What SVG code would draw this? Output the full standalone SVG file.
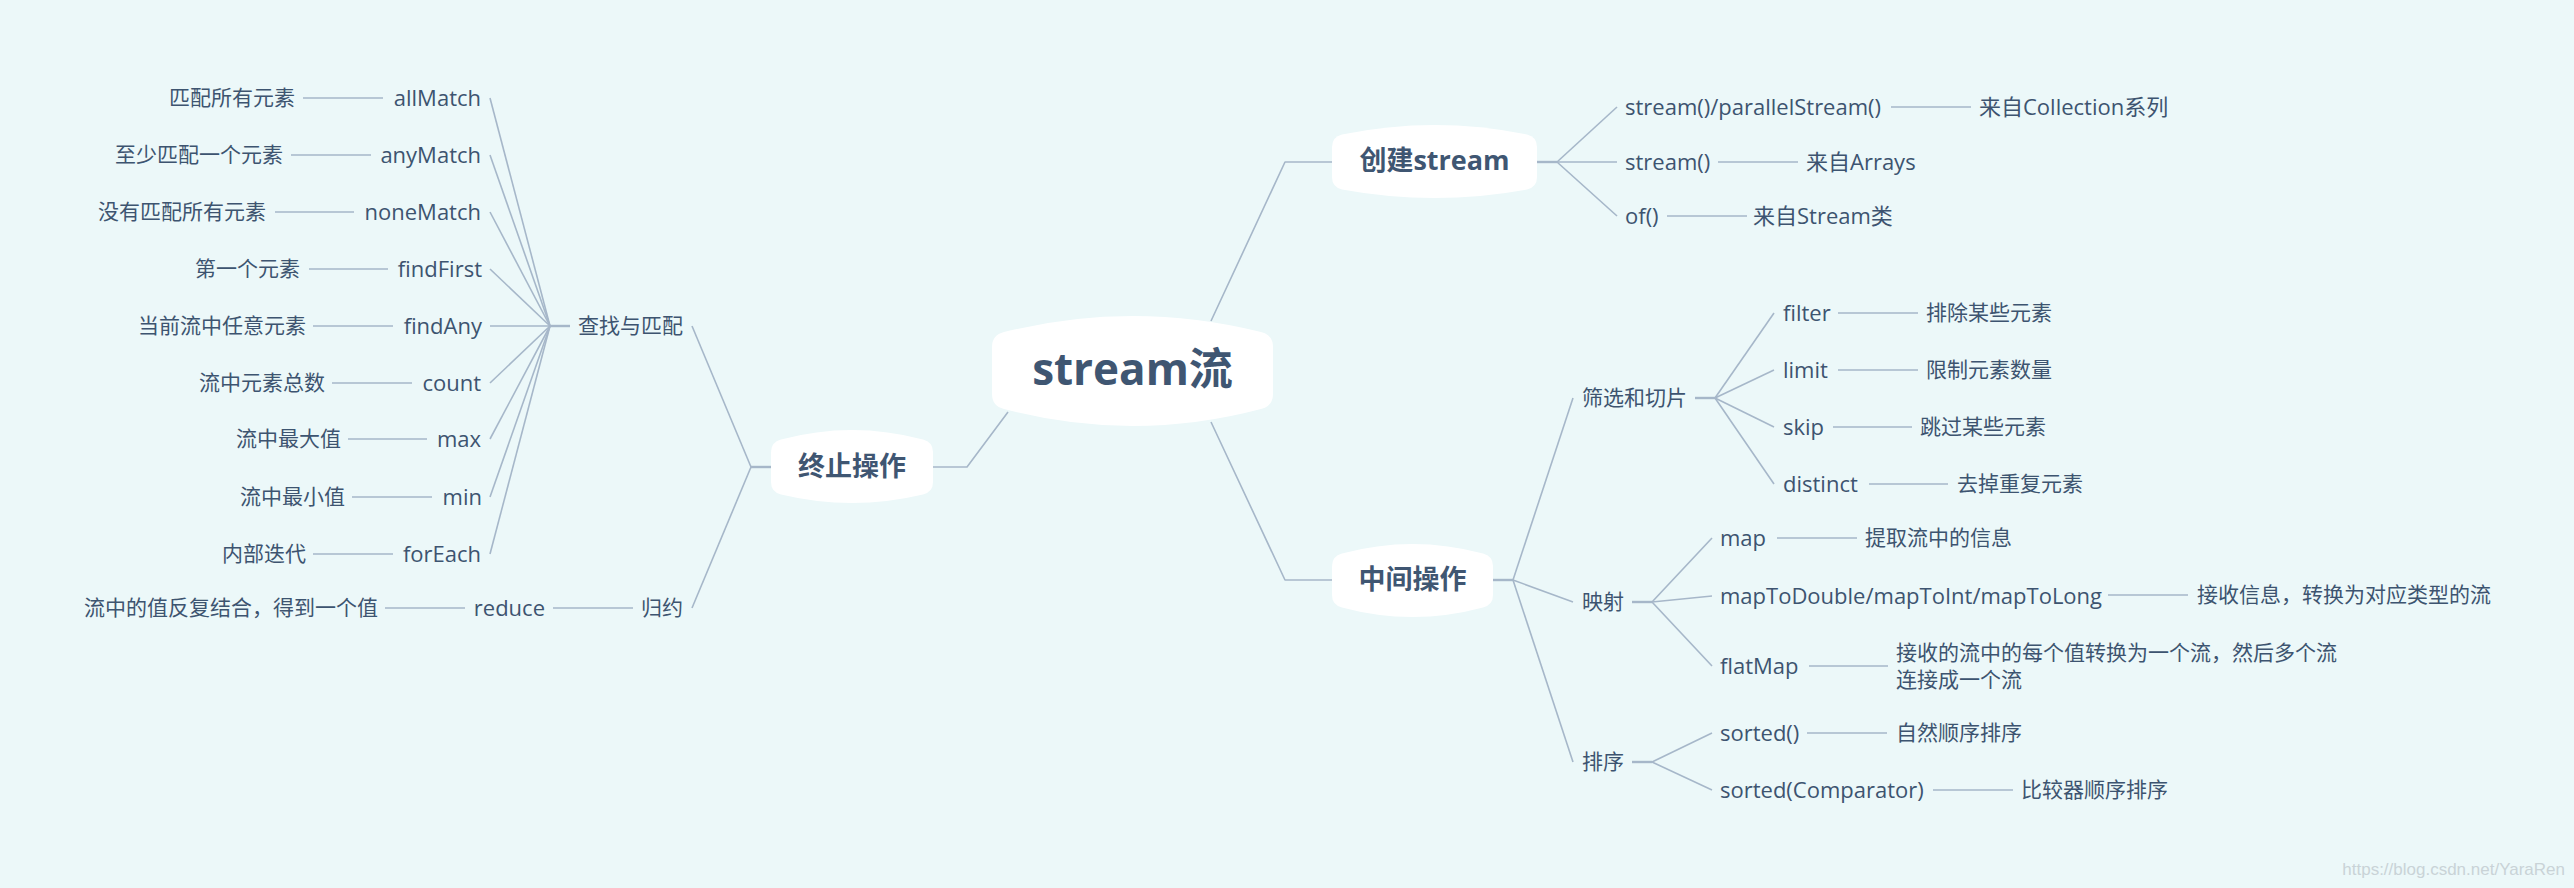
<svg xmlns="http://www.w3.org/2000/svg" width="2574" height="888" viewBox="0 0 2574 888">
<style>
.t{font-family:"Open Sans","Noto Sans CJK SC",sans-serif;font-size:21px;fill:#3d5470;dominant-baseline:central;transform:translateY(-1.5px)}
.l{font-size:22px}
.e{text-anchor:end}
.m{text-anchor:middle}
.b{font-weight:700;fill:#3f5672}
.c{stroke:#a6b7c9;stroke-width:1.6;fill:none;stroke-linejoin:round}
.s{stroke:#a6b7c9;stroke-width:2.4;fill:none}
.n{fill:#ffffff}
.w{font-family:"Liberation Sans",Arial,sans-serif;font-size:17px;fill:#c9d3d7;text-anchor:end;dominant-baseline:central}
</style>
<rect x="0" y="0" width="2574" height="888" fill="#ecf8f9"/>
<g id="connectors">
<polyline class="c" points="1211,321 1285,162 1332,162"/>
<polyline class="c" points="1211,422 1285,580 1332,580"/>
<polyline class="c" points="1008,412 967,467 933,467"/>
<line class="s" x1="1537" y1="162" x2="1557" y2="162"/>
<line class="c" x1="1557" y1="162" x2="1617" y2="107"/>
<line class="c" x1="1557" y1="162" x2="1617" y2="162"/>
<line class="c" x1="1557" y1="162" x2="1617" y2="216"/>
<line class="c" x1="1891" y1="107" x2="1971" y2="107"/>
<line class="c" x1="1718" y1="162" x2="1798" y2="162"/>
<line class="c" x1="1667" y1="216" x2="1747" y2="216"/>
<line class="s" x1="1493" y1="580" x2="1513" y2="580"/>
<line class="c" x1="1513" y1="580" x2="1573" y2="398"/>
<line class="c" x1="1513" y1="580" x2="1573" y2="602"/>
<line class="c" x1="1513" y1="580" x2="1573" y2="762"/>
<line class="s" x1="1695" y1="398" x2="1715" y2="398"/>
<line class="c" x1="1715" y1="398" x2="1774" y2="313"/>
<line class="c" x1="1715" y1="398" x2="1774" y2="370"/>
<line class="c" x1="1715" y1="398" x2="1774" y2="427"/>
<line class="c" x1="1715" y1="398" x2="1774" y2="484"/>
<line class="c" x1="1838" y1="313" x2="1918" y2="313"/>
<line class="c" x1="1838" y1="370" x2="1918" y2="370"/>
<line class="c" x1="1833" y1="427" x2="1912" y2="427"/>
<line class="c" x1="1869" y1="484" x2="1948" y2="484"/>
<line class="s" x1="1632" y1="602" x2="1652" y2="602"/>
<line class="c" x1="1652" y1="602" x2="1712" y2="538"/>
<line class="c" x1="1652" y1="602" x2="1712" y2="596"/>
<line class="c" x1="1652" y1="602" x2="1712" y2="666"/>
<line class="c" x1="1777" y1="538" x2="1857" y2="538"/>
<line class="c" x1="2108" y1="595" x2="2188" y2="595"/>
<line class="c" x1="1809" y1="666" x2="1888" y2="666"/>
<line class="s" x1="1632" y1="762" x2="1652" y2="762"/>
<line class="c" x1="1652" y1="762" x2="1712" y2="733"/>
<line class="c" x1="1652" y1="762" x2="1712" y2="790"/>
<line class="c" x1="1807" y1="733" x2="1887" y2="733"/>
<line class="c" x1="1933" y1="790" x2="2013" y2="790"/>
<line class="s" x1="771" y1="467" x2="751" y2="467"/>
<line class="c" x1="751" y1="467" x2="692" y2="326"/>
<line class="c" x1="751" y1="467" x2="692" y2="608"/>
<line class="s" x1="570" y1="326" x2="550" y2="326"/>
<line class="c" x1="550" y1="326" x2="490" y2="98"/>
<line class="c" x1="550" y1="326" x2="490" y2="155"/>
<line class="c" x1="550" y1="326" x2="490" y2="212"/>
<line class="c" x1="550" y1="326" x2="490" y2="269"/>
<line class="c" x1="550" y1="326" x2="490" y2="326"/>
<line class="c" x1="550" y1="326" x2="490" y2="383"/>
<line class="c" x1="550" y1="326" x2="490" y2="439"/>
<line class="c" x1="550" y1="326" x2="490" y2="497"/>
<line class="c" x1="550" y1="326" x2="490" y2="554"/>
<line class="c" x1="303" y1="98" x2="383" y2="98"/>
<line class="c" x1="291" y1="155" x2="371" y2="155"/>
<line class="c" x1="275" y1="212" x2="354" y2="212"/>
<line class="c" x1="309" y1="269" x2="388" y2="269"/>
<line class="c" x1="313" y1="326" x2="393" y2="326"/>
<line class="c" x1="332" y1="383" x2="412" y2="383"/>
<line class="c" x1="348" y1="439" x2="427" y2="439"/>
<line class="c" x1="352" y1="497" x2="432" y2="497"/>
<line class="c" x1="313" y1="554" x2="393" y2="554"/>
<line class="c" x1="553" y1="608" x2="633" y2="608"/>
<line class="c" x1="385" y1="608" x2="465" y2="608"/>
</g>
<g id="root">
<path class="n" d="M992,347 Q992,335 1004,332 Q1132.5,300 1261,332 Q1273,335 1273,347 L1273,394 Q1273,406 1261,409 Q1132.5,443 1004,409 Q992,406 992,394 Z"/>
<text class="t b m" x="1132.5" y="369" style="font-size:44px">stream流</text>
</g>
<g id="create">
<path class="n" d="M1332,147 Q1332,137 1342,134.5 Q1434.5,115.5 1527,134.5 Q1537,137 1537,147 L1537,177 Q1537,187 1527,189.5 Q1434.5,206.5 1342,189.5 Q1332,187 1332,177 Z"/>
<text class="t b m" x="1434.5" y="161" style="font-size:27px">创建stream</text>
</g>
<g id="create-children">
<text class="t l" x="1625" y="107">stream()/parallelStream()</text>
<text class="t l" x="1979" y="107">来自Collection系列</text>
<text class="t l" x="1625" y="162">stream()</text>
<text class="t l" x="1806" y="162">来自Arrays</text>
<text class="t l" x="1625" y="216">of()</text>
<text class="t l" x="1753" y="216">来自Stream类</text>
</g>
<g id="middle">
<path class="n" d="M1332,566 Q1332,556 1342,553.5 Q1412.5,534.5 1483,553.5 Q1493,556 1493,566 L1493,595 Q1493,605 1483,607.5 Q1412.5,626.5 1342,607.5 Q1332,605 1332,595 Z"/>
<text class="t b m" x="1412.5" y="580" style="font-size:27px">中间操作</text>
</g>
<g id="filter-slice">
<text class="t" x="1582" y="398">筛选和切片</text>
<text class="t l" x="1783" y="313">filter</text>
<text class="t" x="1926" y="313">排除某些元素</text>
<text class="t l" x="1783" y="370">limit</text>
<text class="t" x="1926" y="370">限制元素数量</text>
<text class="t l" x="1783" y="427">skip</text>
<text class="t" x="1920" y="427">跳过某些元素</text>
<text class="t l" x="1783" y="484">distinct</text>
<text class="t" x="1957" y="484">去掉重复元素</text>
</g>
<g id="mapping">
<text class="t" x="1582" y="602">映射</text>
<text class="t l" x="1720" y="538">map</text>
<text class="t" x="1865" y="538">提取流中的信息</text>
<text class="t l" x="1720" y="596">mapToDouble/mapToInt/mapToLong</text>
<text class="t" x="2197" y="595">接收信息，转换为对应类型的流</text>
<text class="t l" x="1720" y="666">flatMap</text>
<text class="t" x="1896" y="653">接收的流中的每个值转换为一个流，然后多个流</text>
<text class="t" x="1896" y="680">连接成一个流</text>
</g>
<g id="sorting">
<text class="t" x="1582" y="762">排序</text>
<text class="t l" x="1720" y="733">sorted()</text>
<text class="t" x="1896" y="733">自然顺序排序</text>
<text class="t l" x="1720" y="790">sorted(Comparator)</text>
<text class="t" x="2021" y="790">比较器顺序排序</text>
</g>
<g id="terminal">
<path class="n" d="M771,452 Q771,442 781,439.5 Q852,420.5 923,439.5 Q933,442 933,452 L933,482 Q933,492 923,494.5 Q852,511.5 781,494.5 Q771,492 771,482 Z"/>
<text class="t b m" x="852" y="467" style="font-size:27px">终止操作</text>
</g>
<g id="find-match">
<text class="t e" x="683" y="326">查找与匹配</text>
<text class="t l e" x="481" y="98">allMatch</text>
<text class="t e" x="295" y="98">匹配所有元素</text>
<text class="t l e" x="481" y="155">anyMatch</text>
<text class="t e" x="283" y="155">至少匹配一个元素</text>
<text class="t l e" x="481" y="212">noneMatch</text>
<text class="t e" x="266" y="212">没有匹配所有元素</text>
<text class="t l e" x="482" y="269">findFirst</text>
<text class="t e" x="300" y="269">第一个元素</text>
<text class="t l e" x="482" y="326">findAny</text>
<text class="t e" x="306" y="326">当前流中任意元素</text>
<text class="t l e" x="481" y="383">count</text>
<text class="t e" x="325" y="383">流中元素总数</text>
<text class="t l e" x="481" y="439">max</text>
<text class="t e" x="341" y="439">流中最大值</text>
<text class="t l e" x="482" y="497">min</text>
<text class="t e" x="345" y="497">流中最小值</text>
<text class="t l e" x="481" y="554">forEach</text>
<text class="t e" x="306" y="554">内部迭代</text>
</g>
<g id="reduce">
<text class="t e" x="683" y="608">归约</text>
<text class="t l e" x="545" y="608">reduce</text>
<text class="t e" x="378" y="608">流中的值反复结合，得到一个值</text>
</g>
<text class="w" x="2565" y="869">https://blog.csdn.net/YaraRen</text>
</svg>
